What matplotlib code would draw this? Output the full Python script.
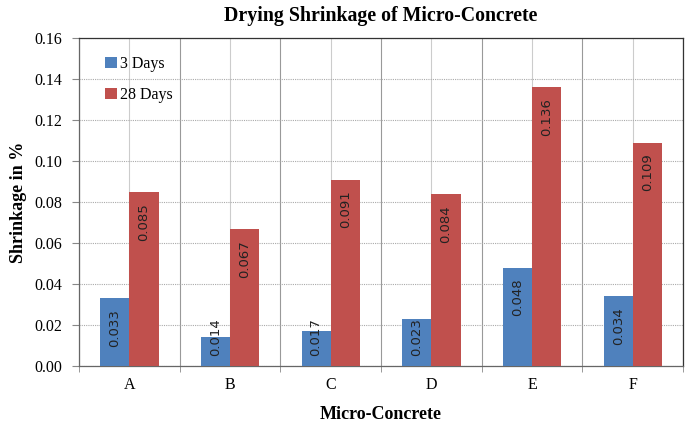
import matplotlib
matplotlib.use("Agg")
import matplotlib.pyplot as plt
import numpy as np

categories = ["A", "B", "C", "D", "E", "F"]
days3 = [0.033, 0.014, 0.017, 0.023, 0.048, 0.034]
days28 = [0.085, 0.067, 0.091, 0.084, 0.136, 0.109]
series_names = ["3 Days", "28 Days"]

serif = "Liberation Serif"
fig = plt.figure(figsize=(6.85, 4.24), dpi=100)
ax = fig.add_axes([0.1153, 0.137, 0.882, 0.773])

x = np.arange(len(categories))
w = 0.29
b1 = ax.bar(x - w / 2, days3, w, color="#4F81BD", label=series_names[0], zorder=3)
b2 = ax.bar(x + w / 2, days28, w, color="#C0504D", label=series_names[1], zorder=3)

ax.set_xlim(-0.5, len(categories) - 0.5)
ax.set_ylim(0, 0.16)

labels = []
for bars, vals in ((b1, days3), (b2, days28)):
    for r, v in zip(bars, vals):
        cx = r.get_x() + r.get_width() / 2
        t = ax.annotate(f"{v:.3f}", (cx, v),
                        xytext=(0, -8), textcoords="offset points",
                        rotation=90, ha="center", va="top", fontsize=9.5,
                        family="DejaVu Sans", color="#222222", zorder=4)
        labels.append((t, cx))

ax.set_yticks(np.arange(0, 0.161, 0.02))
ax.set_yticklabels([f"{t:.2f}" for t in np.arange(0, 0.161, 0.02)], family=serif, fontsize=11.5)
ax.set_xticks(x)
ax.set_xticklabels(categories, family=serif, fontsize=11.5)
ax.set_xticks(np.arange(-0.5, len(categories), 1.0), minor=True)
ax.tick_params(axis="x", which="major", length=0, pad=8)
ax.tick_params(axis="x", which="minor", length=4, color="#888888")
ax.tick_params(axis="y", length=5, color="#888888", pad=7)

ax.grid(axis="y", which="major", linestyle=(0, (1, 1)), color="#aaaaaa", linewidth=0.8, zorder=0)
ax.grid(axis="x", which="major", color="#cccccc", linewidth=0.8, zorder=0)
ax.grid(axis="x", which="minor", color="#999999", linewidth=0.8, zorder=0)
for s in ax.spines.values():
    s.set_color("#666666")
    s.set_linewidth(0.9)
ax.spines["top"].set_color("#333333")
ax.spines["right"].set_color("#333333")

ax.set_title("Drying Shrinkage of Micro-Concrete", family=serif, fontweight="bold", fontsize=14.3, pad=12)
ax.set_xlabel("Micro-Concrete", family=serif, fontweight="bold", fontsize=13, labelpad=9)
ax.set_ylabel("Shrinkage in %", family=serif, fontweight="bold", fontsize=13, labelpad=5)

leg = ax.legend(loc="upper left", bbox_to_anchor=(0.02, 0.99), frameon=False,
                prop={"family": serif, "size": 11.5}, handlelength=0.7, handleheight=0.7,
                handletextpad=0.2, labelspacing=0.95)

# Keep labels of short bars from dropping below the axis (inside-end, clamped)
fig.canvas.draw()
axbox = ax.get_window_extent()
for t, cx in labels:
    bb = t.get_window_extent()
    if bb.y0 < axbox.y0 + 9:
        t.xy = (cx, 0)
        t.set_position((0, 7))
        t.set_va("bottom")

fig.savefig("out.png", dpi=100)
